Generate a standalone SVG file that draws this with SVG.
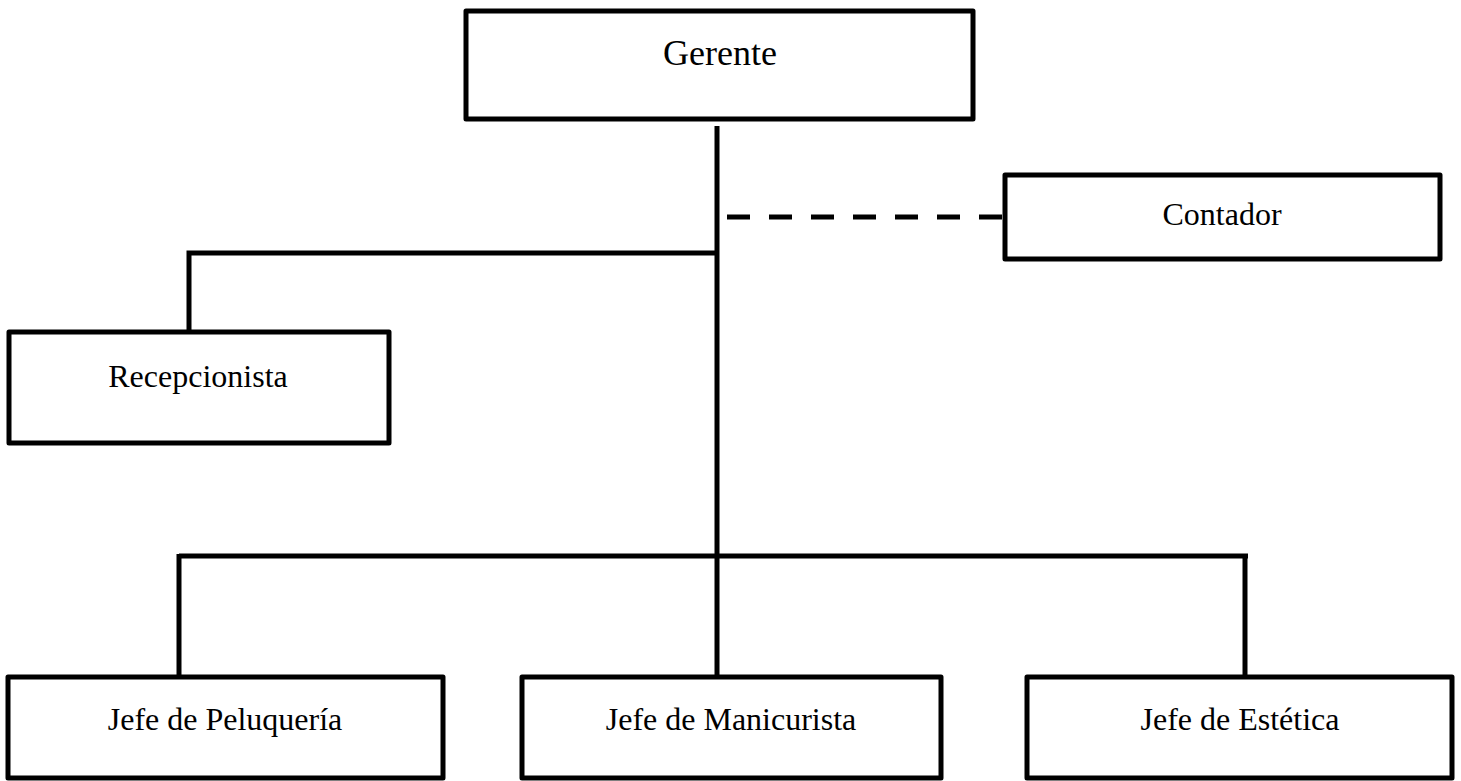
<svg xmlns="http://www.w3.org/2000/svg" width="1461" height="781" viewBox="0 0 1461 781">
<style>
.box{fill:#fff;stroke:#000;stroke-width:5;stroke-linejoin:round}
.ln{stroke:#000;stroke-width:5;fill:none}
.dash{stroke:#000;stroke-width:5;fill:none;stroke-dasharray:23 19}
text{font-family:"Liberation Serif","Times New Roman",serif;fill:#000;text-anchor:middle}
.t{font-size:32px}
.big{font-size:36px}
</style>
<rect width="1461" height="781" fill="#fff"/>
<g id="connectors">
<line class="ln" x1="717" y1="126" x2="717" y2="677"/>
<line class="dash" x1="727" y1="217" x2="1005" y2="217"/>
<polyline class="ln" points="717,253 189,253 189,332"/>
<line class="ln" x1="179" y1="556" x2="1248" y2="556"/>
<line class="ln" x1="179" y1="554" x2="179" y2="677"/>
<line class="ln" x1="1245" y1="554" x2="1245" y2="677"/>
</g>
<g id="gerente">
<rect class="box" x="466" y="11" width="507" height="108"/>
<text class="big" x="720" y="65">Gerente</text>
</g>
<g id="contador">
<rect class="box" x="1005" y="175" width="435" height="84"/>
<text class="t" x="1222" y="225">Contador</text>
</g>
<g id="recepcionista">
<rect class="box" x="9" y="332" width="380" height="111"/>
<text class="t" x="198" y="387">Recepcionista</text>
</g>
<g id="peluqueria">
<rect class="box" x="8" y="677" width="435" height="101"/>
<text class="t" x="225" y="730">Jefe de Peluquería</text>
</g>
<g id="manicurista">
<rect class="box" x="522" y="677" width="419" height="101"/>
<text class="t" x="731" y="730">Jefe de Manicurista</text>
</g>
<g id="estetica">
<rect class="box" x="1027" y="677" width="425" height="101"/>
<text class="t" x="1240" y="730">Jefe de Estética</text>
</g>
</svg>
